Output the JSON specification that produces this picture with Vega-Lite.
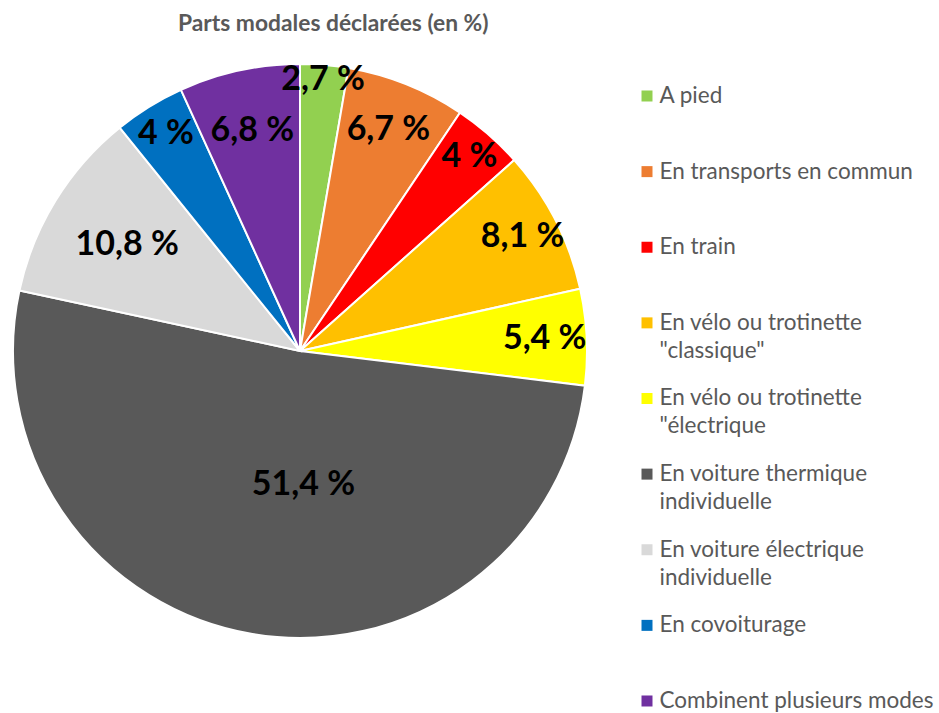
{
  "$schema": "https://vega.github.io/schema/vega-lite/v6.json",
  "padding": {"top": 13, "left": 0, "right": 0, "bottom": 0},
  "background": "white",
  "title": {
    "text": "Parts modales déclarées (en %)",
    "anchor": "start",
    "dx": 178,
    "font": "Lato",
    "fontSize": 22.8,
    "fontWeight": "bold",
    "color": "#595959",
    "offset": 6
  },
  "datasets": {
    "modes": [
      {"ordre": 0, "mode": "A pied", "legende": "A pied", "part": 2.7},
      {"ordre": 1, "mode": "En transports en commun", "legende": "En transports en commun", "part": 6.7},
      {"ordre": 2, "mode": "En train", "legende": "En train", "part": 4.0},
      {"ordre": 3, "mode": "En vélo ou trotinette \"classique\"", "legende": "En vélo ou trotinette\n\"classique\"", "part": 8.1},
      {"ordre": 4, "mode": "En vélo ou trotinette \"électrique", "legende": "En vélo ou trotinette\n\"électrique", "part": 5.4},
      {"ordre": 5, "mode": "En voiture thermique individuelle", "legende": "En voiture thermique\nindividuelle", "part": 51.4},
      {"ordre": 6, "mode": "En voiture électrique individuelle", "legende": "En voiture électrique\nindividuelle", "part": 10.8},
      {"ordre": 7, "mode": "En covoiturage", "legende": "En covoiturage", "part": 4.0},
      {"ordre": 8, "mode": "Combinent plusieurs modes", "legende": "Combinent plusieurs modes", "part": 6.8}
    ]
  },
  "spacing": 41,
  "hconcat": [
    {
      "width": 600,
      "height": 618,
      "data": {"name": "modes"},
      "transform": [
        {"calculate": "replace(format(datum.part, '.1~f'), '.', ',') + ' %'", "as": "etiquette"}
      ],
      "encoding": {
        "theta": {"field": "part", "type": "quantitative", "stack": true},
        "order": {"field": "ordre", "type": "quantitative"}
      },
      "layer": [
        {
          "mark": {"type": "arc", "outerRadius": 287, "stroke": "white", "strokeWidth": 2},
          "encoding": {
            "color": {
              "field": "mode",
              "type": "nominal",
              "scale": {
                "domain": ["A pied", "En transports en commun", "En train", "En vélo ou trotinette \"classique\"", "En vélo ou trotinette \"électrique", "En voiture thermique individuelle", "En voiture électrique individuelle", "En covoiturage", "Combinent plusieurs modes"],
                "range": ["#92D050", "#ED7D31", "#FF0000", "#FFC000", "#FFFF00", "#595959", "#D9D9D9", "#0070C0", "#7030A0"]
              },
              "legend": null
            }
          }
        },
        {
          "mark": {
            "type": "text",
            "font": "Lato",
            "fontSize": 34,
            "fontWeight": "bold",
            "color": "black",
            "radius": {"expr": "datum.ordre === 0 ? 272 : datum.ordre === 1 ? 238 : datum.ordre === 2 ? 258 : datum.ordre === 3 ? 250 : datum.ordre === 5 ? 136 : datum.ordre === 6 ? 203 : datum.ordre === 7 ? 255 : datum.ordre === 8 ? 225 : 245"},
            "dx": {"expr": "datum.ordre === 5 ? 26 : 0"}
          },
          "encoding": {
            "text": {"field": "etiquette"}
          }
        }
      ]
    },
    {
      "width": 280,
      "height": 672,
      "data": {"name": "modes"},
      "encoding": {
        "y": {"field": "ordre", "type": "quantitative", "scale": {"domain": [-0.714, 8.172], "reverse": true, "nice": false, "zero": false}, "axis": null},
        "x": {"datum": 0, "type": "quantitative", "scale": {"domain": [0, 1]}, "axis": null}
      },
      "layer": [
        {
          "mark": {"type": "point", "shape": "square", "size": 121, "filled": true, "opacity": 1},
          "encoding": {
            "color": {
              "field": "mode",
              "type": "nominal",
              "scale": {
                "domain": ["A pied", "En transports en commun", "En train", "En vélo ou trotinette \"classique\"", "En vélo ou trotinette \"électrique", "En voiture thermique individuelle", "En voiture électrique individuelle", "En covoiturage", "Combinent plusieurs modes"],
                "range": ["#92D050", "#ED7D31", "#FF0000", "#FFC000", "#FFFF00", "#595959", "#D9D9D9", "#0070C0", "#7030A0"]
              },
              "legend": null
            }
          }
        },
        {
          "mark": {"type": "text", "align": "left", "baseline": "middle", "dx": 12.5, "font": "Lato", "fontSize": 22.5, "color": "#595959", "lineBreak": "\n", "lineHeight": 28},
          "encoding": {
            "text": {"field": "legende"}
          }
        }
      ]
    }
  ],
  "config": {"view": {"stroke": null}, "font": "Lato"}
}
